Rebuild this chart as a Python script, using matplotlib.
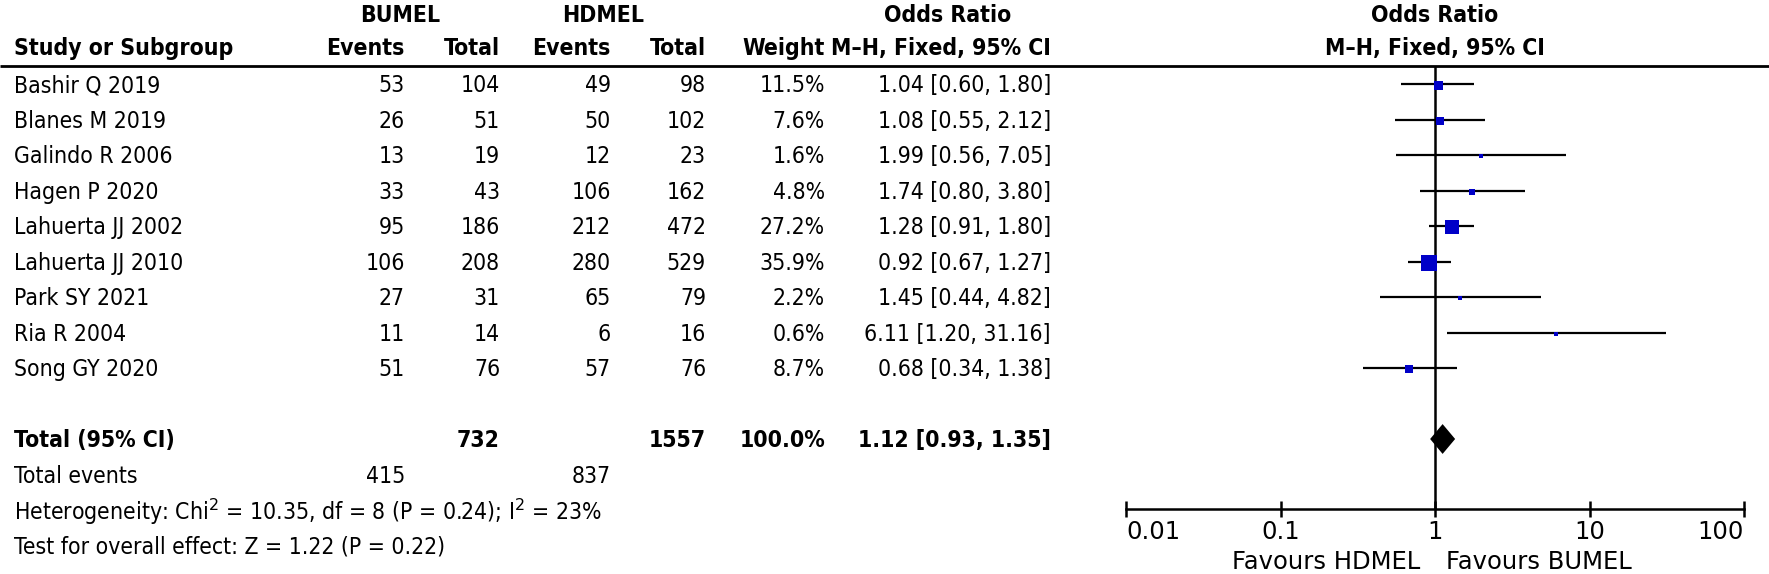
import numpy as np
import matplotlib.pyplot as plt
from matplotlib import font_manager

# ---- data ----
studies = ["Bashir Q 2019", "Blanes M 2019", "Galindo R 2006", "Hagen P 2020",
           "Lahuerta JJ 2002", "Lahuerta JJ 2010", "Park SY 2021", "Ria R 2004",
           "Song GY 2020"]
bumel_events = [53, 26, 13, 33, 95, 106, 27, 11, 51]
bumel_total = [104, 51, 19, 43, 186, 208, 31, 14, 76]
hdmel_events = [49, 50, 12, 106, 212, 280, 65, 6, 57]
hdmel_total = [98, 102, 23, 162, 472, 529, 79, 16, 76]
weights = [11.5, 7.6, 1.6, 4.8, 27.2, 35.9, 2.2, 0.6, 8.7]
odds = [1.04, 1.08, 1.99, 1.74, 1.28, 0.92, 1.45, 6.11, 0.68]
ci_low = [0.60, 0.55, 0.56, 0.80, 0.91, 0.67, 0.44, 1.20, 0.34]
ci_high = [1.80, 2.12, 7.05, 3.80, 1.80, 1.27, 4.82, 31.16, 1.38]

total_bumel = 732
total_hdmel = 1557
total_weight = 100.0
events_bumel = 415
events_hdmel = 837
total_or = 1.12
total_low = 0.93
total_high = 1.35

axis_ticks = [0.01, 0.1, 1, 10, 100]
axis_labels = ["0.01", "0.1", "1", "10", "100"]

# narrow font if one is installed (the reference table uses a condensed face)
condensed = [f for f in font_manager.fontManager.ttflist
             if f.name == "DejaVu Sans" and f.stretch == 'condensed']
if condensed:
    FONT, STRETCH, FS = "DejaVu Sans", 'condensed', 16.5
else:
    FONT, STRETCH, FS = "Lato", 'normal', 17
plt.rcParams['font.family'] = [FONT, 'DejaVu Sans']
FS_AX = 17.5  # axis labels below the forest plot are wider

W, H = 1769, 574
fig = plt.figure(figsize=(W / 100, H / 100), dpi=100)


# rows are placed in "row units": row k sits at pixel 84 + 35.5 k
def row_of(py):
    return (py - 84) / 35.5


ylim = (row_of(H), row_of(0))
ax = fig.add_axes([0, 0, 1, 1])
ax.set_xlim(0, W)
ax.set_ylim(*ylim)
ax.axis('off')

# column right edges (pixels)
x_study = 14
x_be, x_bt, x_he, x_ht, x_w, x_ci = 405, 500, 611, 706, 825, 1051
dy = 0.05


def txt(x, y, s, ha='right', bold=False):
    ax.text(x, y + dy, s, ha=ha, va='center', fontsize=FS, fontstretch=STRETCH,
            fontweight='bold' if bold else 'normal')


h1, h2 = row_of(14), row_of(47)
hline = row_of(66)

txt(400, h1, "BUMEL", ha='center', bold=True)
txt(603, h1, "HDMEL", ha='center', bold=True)
txt(948, h1, "Odds Ratio", ha='center', bold=True)
txt(1435, h1, "Odds Ratio", ha='center', bold=True)

txt(x_study, h2, "Study or Subgroup", ha='left', bold=True)
for xr, lab in [(x_be, "Events"), (x_bt, "Total"), (x_he, "Events"), (x_ht, "Total"), (x_w, "Weight")]:
    txt(xr, h2, lab, bold=True)
txt(x_ci, h2, "M\u2013H, Fixed, 95% CI", bold=True)
txt(1435, h2, "M\u2013H, Fixed, 95% CI", ha='center', bold=True)

ax.hlines(hline, 0, W, color='black', lw=2)

for i, name in enumerate(studies):
    txt(x_study, i, name, ha='left')
    txt(x_be, i, str(bumel_events[i]))
    txt(x_bt, i, str(bumel_total[i]))
    txt(x_he, i, str(hdmel_events[i]))
    txt(x_ht, i, str(hdmel_total[i]))
    txt(x_w, i, f"{weights[i]:.1f}%")
    txt(x_ci, i, f"{odds[i]:.2f} [{ci_low[i]:.2f}, {ci_high[i]:.2f}]")

k_tot = len(studies) + 1
txt(x_study, k_tot, "Total (95% CI)", ha='left', bold=True)
txt(x_bt, k_tot, str(total_bumel), bold=True)
txt(x_ht, k_tot, str(total_hdmel), bold=True)
txt(x_w, k_tot, f"{total_weight:.1f}%", bold=True)
txt(x_ci, k_tot, f"{total_or:.2f} [{total_low:.2f}, {total_high:.2f}]", bold=True)

txt(x_study, k_tot + 1, "Total events", ha='left')
txt(x_be, k_tot + 1, str(events_bumel))
txt(x_he, k_tot + 1, str(events_hdmel))
txt(x_study, k_tot + 2, "Heterogeneity: Chi$^2$ = 10.35, df = 8 (P = 0.24); I$^2$ = 23%", ha='left')
txt(x_study, k_tot + 3, "Test for overall effect: Z = 1.22 (P = 0.22)", ha='left')

# ---- forest panel ----
x0, x1 = 1126, 1744
ax2 = fig.add_axes([x0 / W, 0, (x1 - x0) / W, 1])
ax2.set_xscale('log')
ax2.set_xlim(axis_ticks[0], axis_ticks[-1])
ax2.set_ylim(*ylim)
ax2.patch.set_alpha(0)
axis_row = row_of(509)

ax2.vlines(1, hline, axis_row, color='black', lw=1.8)
rows = np.arange(len(studies))
ax2.hlines(rows, ci_low, ci_high, color='black', lw=1.6)
sizes = 9 * np.sqrt(np.array(weights) / 11.5) * 0.72
for r, o, s in zip(rows, odds, sizes):
    ax2.plot(o, r + 0.04, marker='s', ms=max(s, 2.4), color='#0000c8', mec='#0000c8', mew=0)

dh = 0.42
ax2.fill([total_low, total_or, total_high, total_or],
         [k_tot, k_tot - dh, k_tot, k_tot + dh], color='black', lw=0)

for sp in ['left', 'right', 'top']:
    ax2.spines[sp].set_visible(False)
ax2.spines['bottom'].set_position(('data', axis_row))
ax2.spines['bottom'].set_linewidth(1.8)
ax2.set_yticks([])
ax2.set_xticks(axis_ticks)
ax2.set_xticklabels(axis_labels)
ax2.minorticks_off()
ax2.tick_params(axis='x', direction='inout', length=11.5, width=1.8, labelsize=FS_AX, pad=2)
labs = ax2.get_xticklabels()
labs[0].set_ha('left')
labs[-1].set_ha('right')
for lab in labs:
    lab.set_fontstretch('normal')

fav_row = row_of(562)
ax2.text(0.80, fav_row, "Favours HDMEL", ha='right', va='center', fontsize=FS_AX, fontstretch='normal')
ax2.text(1.18, fav_row, "Favours BUMEL", ha='left', va='center', fontsize=FS_AX, fontstretch='normal')

fig.savefig('out.png', dpi=100)
